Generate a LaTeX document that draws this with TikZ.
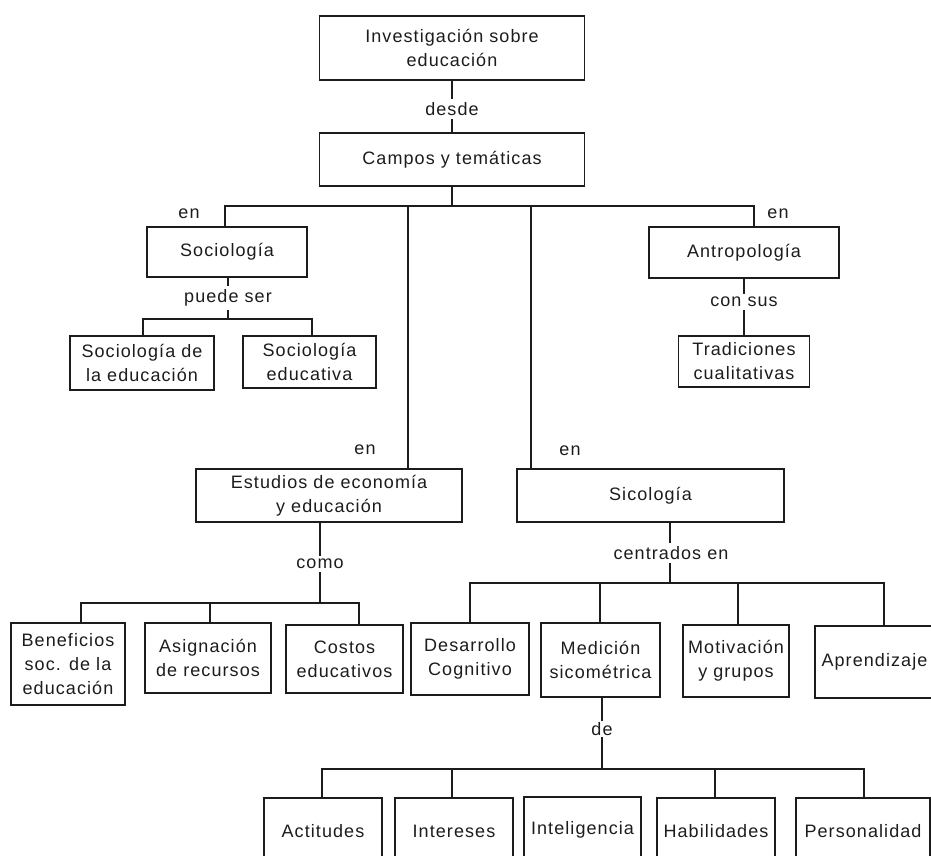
\documentclass[tikz,border=0pt]{standalone}
\usepackage{fontspec}
\setmainfont{Liberation Sans}[LetterSpace=6]
\definecolor{ink}{HTML}{1C1C1C}
\newcommand\mapfont{\fontsize{18}{24}\selectfont}
\begin{document}
\begin{tikzpicture}[x=1pt,y=-1pt,
  box/.style={draw=ink, line width=1.5pt, align=center, inner sep=0pt,
    text=ink, font=\mapfont},
  link/.style={draw=ink, line width=1.4pt},
  lbl/.style={inner sep=3pt, text=ink, font=\mapfont},
  tag/.style={inner sep=0pt, text=ink, font=\mapfont}]
\useasboundingbox (0,0) rectangle (931,855);

% ---- upper levels
\node[box, minimum width=265pt, minimum height=64pt] (inv) at (452,48) {Investigación sobre\\educación};
\node[box, minimum width=265pt, minimum height=53pt] (campos) at (452,159.5) {Campos y temáticas};
\node[lbl] (ldesde) at (452,109) {desde};
\draw[link] (inv) -- (ldesde) -- (campos);

\coordinate (j0) at (452,206);
\coordinate (busL) at (225,206);
\coordinate (busE) at (408,206);
\coordinate (busS) at (531,206);
\coordinate (busR) at (754,206);

\node[box, minimum width=160pt, minimum height=50pt] (soc) at (227,252) {Sociología};
\node[box, minimum width=190pt, minimum height=51pt] (antro) at (744,252.5) {Antropología};
\node[box, minimum width=266pt, minimum height=53pt] (est) at (329,495.5) {Estudios de economía\\y educación};
\node[box, minimum width=267pt, minimum height=53pt] (sico) at (650.5,495.5) {Sicología};

\draw[link] (campos) -- (j0);
\draw[link] (soc.north -| busL) -- (busL) -- (busR) -- (antro.north -| busR);
\draw[link] (busE) -- (est.north -| busE);
\draw[link] (busS) -- (sico.north -| busS);

\node[tag] (en1) at (189,214) {en};
\node[tag] (en2) at (778,214) {en};
\node[tag] (en3) at (365,450) {en};
\node[tag] (en4) at (570,451) {en};

% ---- Sociología
\node[box, minimum width=144pt, minimum height=54pt] (socedu) at (142,363) {Sociología de\\la educación};
\node[box, minimum width=133pt, minimum height=52pt] (soceduc) at (309.5,362) {Sociología\\educativa};
\node[lbl] (lpuede) at (228,298) {puede ser};
\coordinate (sj) at (228,319);
\coordinate (sL) at (143,319);
\coordinate (sR) at (312,319);
\draw[link] (soc.south -| sj) -- (lpuede) -- (sj);
\draw[link] (socedu.north -| sL) -- (sL) -- (sR) -- (soceduc.north -| sR);

% ---- Antropología
\node[box, minimum width=131pt, minimum height=51pt] (trad) at (744,361.5) {Tradiciones\\cualitativas};
\node[lbl] (lcon) at (744,302) {con sus};
\draw[link] (antro) -- (lcon) -- (trad);

% ---- Economía
\node[box, minimum width=114pt, minimum height=82pt] (benef) at (68,664) {Beneficios\\soc. de la\\educación};
\node[box, minimum width=126pt, minimum height=70pt] (asig) at (208,658) {Asignación\\de recursos};
\node[box, minimum width=117pt, minimum height=68pt] (costos) at (344.5,659) {Costos\\educativos};
\node[lbl] (lcomo) at (320,564) {como};
\coordinate (ej) at (320,603);
\coordinate (eL) at (81,603);
\coordinate (eM) at (210,603);
\coordinate (eR) at (359,603);
\draw[link] (est.south -| ej) -- (lcomo) -- (ej);
\draw[link] (benef.north -| eL) -- (eL) -- (eR) -- (costos.north -| eR);
\draw[link] (eM) -- (asig.north -| eM);

% ---- Sicología
\node[box, minimum width=118pt, minimum height=72pt] (desa) at (470,659) {Desarrollo\\Cognitivo};
\node[box, minimum width=119pt, minimum height=74pt] (medi) at (600.5,660) {Medición\\sicométrica};
\node[box, minimum width=106pt, minimum height=72pt] (moti) at (736,661) {Motivación\\y grupos};
\node[box, minimum width=119pt, minimum height=72pt] (apre) at (874.5,662) {Aprendizaje};
\node[lbl] (lcent) at (671,553) {centrados en};
\coordinate (cj) at (670,583);
\coordinate (cL) at (470,583);
\coordinate (cM) at (600,583);
\coordinate (cN) at (738,583);
\coordinate (cR) at (884,583);
\draw[link] (sico.south -| cj) -- (lcent.north -| cj);
\draw[link] (lcent.south -| cj) -- (cj);
\draw[link] (desa.north -| cL) -- (cL) -- (cR) -- (apre.north -| cR);
\draw[link] (cM) -- (medi.north -| cM);
\draw[link] (cN) -- (moti.north -| cN);

% ---- Medición sicométrica
\node[box, minimum width=118pt, minimum height=66pt] (acti) at (323,831) {Actitudes};
\node[box, minimum width=118pt, minimum height=66pt] (inte) at (454,831) {Intereses};
\node[box, minimum width=117pt, minimum height=66pt] (intel) at (582.5,830) {Inteligencia};
\node[box, minimum width=118pt, minimum height=66pt] (habi) at (716,831) {Habilidades};
\node[box, minimum width=134pt, minimum height=66pt] (pers) at (863,831) {Personalidad};
\node[lbl, inner sep=1pt] (lde) at (602,729) {de};
\coordinate (mj) at (602,769);
\coordinate (mL) at (322,769);
\coordinate (mM) at (452,769);
\coordinate (mN) at (715,769);
\coordinate (mR) at (864,769);
\draw[link] (medi.south -| mj) -- (lde.north -| mj);
\draw[link] (lde.south -| mj) -- (mj);
\draw[link] (acti.north -| mL) -- (mL) -- (mR) -- (pers.north -| mR);
\draw[link] (mM) -- (inte.north -| mM);
\draw[link] (mN) -- (habi.north -| mN);
\end{tikzpicture}
\end{document}
